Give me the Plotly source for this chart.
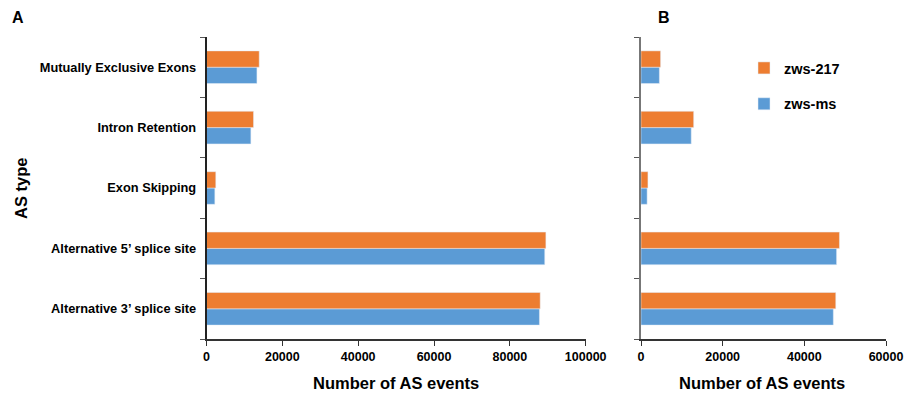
import plotly.graph_objects as go

cat_labels = ["Alternative 3’ splice site", "Alternative 5’ splice site", "Exon Skipping",
              "Intron Retention", "Mutually Exclusive Exons"]
a_zws217 = [88000, 89500, 2450, 12400, 13900]
a_zwsms = [87800, 89200, 2200, 11700, 13300]
b_zws217 = [47700, 48600, 1700, 12900, 4800]
b_zwsms = [47100, 47900, 1500, 12300, 4500]
x_title = "Number of AS events"
y_title = "AS type"

orange = "#ED7D31"
blue = "#5B9BD5"
font = "Liberation Sans, Arial, sans-serif"
W, H = 906, 393

fig = go.Figure()
fig.add_trace(go.Bar(y=cat_labels, x=a_zwsms, orientation="h", name="zws-ms", marker_color=blue,
                     xaxis="x", yaxis="y", legendgroup="ms", legendrank=2))
fig.add_trace(go.Bar(y=cat_labels, x=a_zws217, orientation="h", name="zws-217", marker_color=orange,
                     xaxis="x", yaxis="y", legendgroup="217", legendrank=1))
fig.add_trace(go.Bar(y=cat_labels, x=b_zwsms, orientation="h", name="zws-ms", marker_color=blue,
                     xaxis="x2", yaxis="y2", showlegend=False, legendgroup="ms"))
fig.add_trace(go.Bar(y=cat_labels, x=b_zws217, orientation="h", name="zws-217", marker_color=orange,
                     xaxis="x2", yaxis="y2", showlegend=False, legendgroup="217"))

ydom = [1 - 339 / H, 1 - 37 / H]
common_x = dict(showgrid=False, zeroline=False, showline=True, linecolor="#333", linewidth=1.5,
                ticks="outside", ticklen=5, tickcolor="#333", tickformat="d", automargin=False,
                tickfont=dict(family=font, size=12.5, color="black", weight="bold"))
common_y = dict(type="category", showgrid=False, zeroline=False, showline=True,
                linewidth=1.5, ticks="outside", ticklen=5, tickcolor="#555", tickson="boundaries",
                categoryorder="array", categoryarray=cat_labels, automargin=False)

fig.update_layout(
    width=W, height=H,
    margin=dict(l=0, r=0, t=0, b=0, autoexpand=False),
    paper_bgcolor="white", plot_bgcolor="white",
    barmode="group", bargap=0.46, bargroupgap=0.0,
    xaxis=dict(domain=[206.5 / W, 585.7 / W], range=[0, 100000], dtick=20000, anchor="y", **common_x),
    yaxis=dict(domain=ydom, anchor="x", showticklabels=True, linecolor="#222", ticklabelstandoff=6,
               tickfont=dict(family=font, size=12.8, color="black", weight="bold"), **common_y),
    xaxis2=dict(domain=[641 / W, 886 / W], range=[0, 60000], dtick=20000, anchor="y2", **common_x),
    yaxis2=dict(domain=ydom, anchor="x2", showticklabels=False, linecolor="#777", **common_y),
    legend=dict(x=744 / W, y=1 - 52 / H, xanchor="left", yanchor="top", traceorder="grouped",
                font=dict(family=font, size=14.5, color="black", weight="bold"),
                bgcolor="rgba(0,0,0,0)", tracegroupgap=14, itemwidth=30),
    annotations=[
        dict(text="<b>A</b>", x=18 / W, y=1 - 18 / H, xref="paper", yref="paper", showarrow=False,
             font=dict(family=font, size=16, color="black"), xanchor="center", yanchor="middle"),
        dict(text="<b>B</b>", x=664 / W, y=1 - 18 / H, xref="paper", yref="paper", showarrow=False,
             font=dict(family=font, size=16, color="black"), xanchor="center", yanchor="middle"),
        dict(text="<b>" + x_title + "</b>", x=396 / W, y=1 - 383 / H, xref="paper", yref="paper",
             showarrow=False, font=dict(family=font, size=16.5, color="black"),
             xanchor="center", yanchor="middle"),
        dict(text="<b>" + x_title + "</b>", x=762 / W, y=1 - 383 / H, xref="paper", yref="paper",
             showarrow=False, font=dict(family=font, size=16.5, color="black"),
             xanchor="center", yanchor="middle"),
        dict(text="<b>" + y_title + "</b>", x=21 / W, y=1 - 189 / H, xref="paper", yref="paper",
             showarrow=False, textangle=-90, font=dict(family=font, size=16.5, color="black"),
             xanchor="center", yanchor="middle"),
    ],
)

fig.write_html("out.html", config={"displayModeBar": False},
               post_script="document.body.style.margin='0px';")
